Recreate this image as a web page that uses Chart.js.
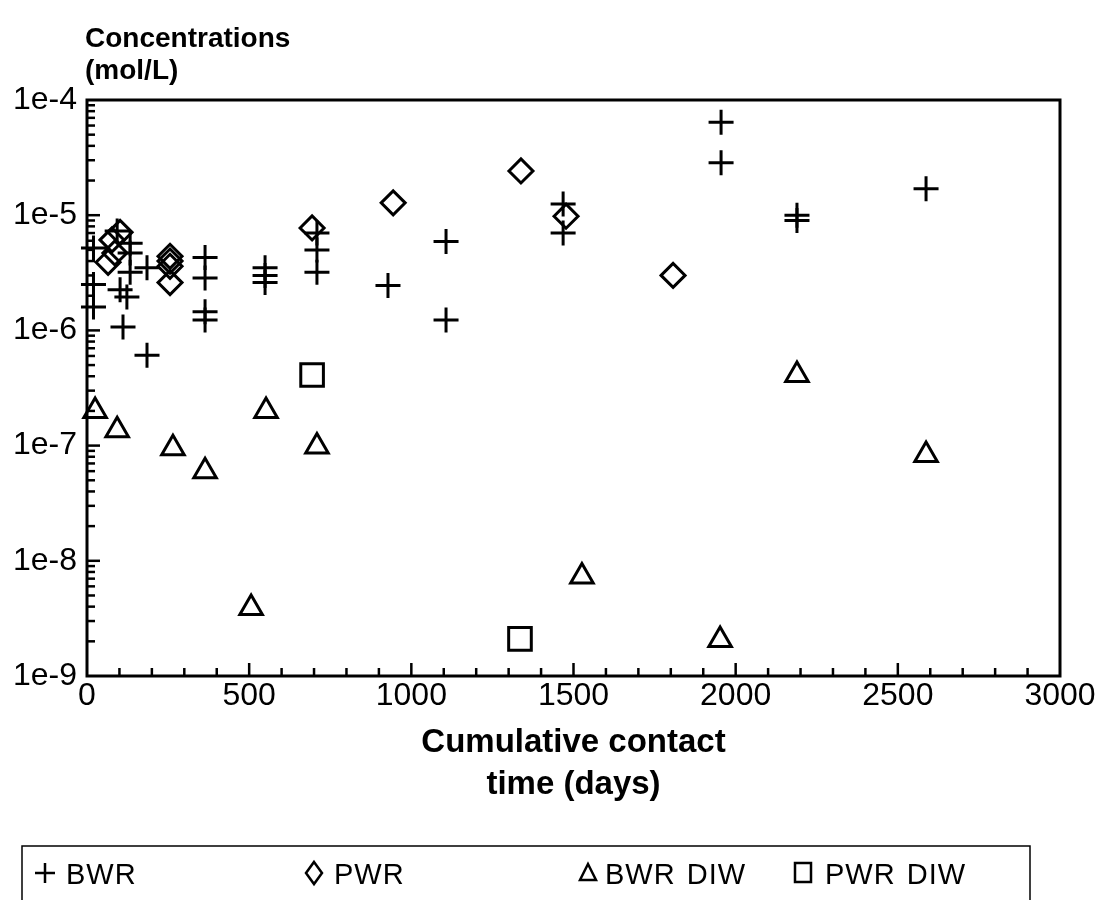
<!DOCTYPE html>
<html>
<head>
<meta charset="utf-8">
<script src="https://cdn.jsdelivr.net/npm/chart.js@4/dist/chart.umd.min.js"></script>
<style>
  html, body { margin: 0; padding: 0; background: #fff; }
  #wrap { width: 1105px; height: 900px; }
</style>
</head>
<body>
<div id="wrap"><canvas id="chart" width="1105" height="900"></canvas></div>
<script>
// values
const bwrDays = [20, 20, 20, 93, 133, 133, 133, 102, 123, 111, 185, 185, 364, 364, 364, 364, 549, 549, 549, 709, 709, 709, 928, 1107, 1107, 1468, 1468, 1955, 1955, 2189, 2189, 2587];
const bwrConc = [5.2e-6, 2.5e-6, 1.6e-6, 7.3e-6, 5.7e-6, 4.7e-6, 3.2e-6, 2.25e-6, 1.95e-6, 1.07e-6, 6.1e-7, 3.5e-6, 4.3e-6, 2.85e-6, 1.45e-6, 1.23e-6, 3.5e-6, 3.0e-6, 2.6e-6, 7.0e-6, 5.0e-6, 3.2e-6, 2.45e-6, 5.9e-6, 1.23e-6, 1.25e-5, 7.0e-6, 6.4e-5, 2.85e-5, 1.0e-5, 9.0e-6, 1.7e-5];

const pwrDays = [65, 77, 86, 102, 256, 256, 256, 256, 694, 944, 1338, 1477, 1807];
const pwrConc = [3.9e-6, 6.1e-6, 4.7e-6, 7.1e-6, 4.4e-6, 4.0e-6, 3.6e-6, 2.6e-6, 7.75e-6, 1.28e-5, 2.42e-5, 9.8e-6, 3.0e-6];

const bwrDiwDays = [25, 93, 265, 364, 506, 552, 709, 1526, 1952, 2189, 2587];
const bwrDiwConc = [2.0e-7, 1.36e-7, 9.5e-8, 6.0e-8, 3.9e-9, 2.0e-7, 9.8e-8, 7.3e-9, 2.05e-9, 4.1e-7, 8.3e-8];

const pwrDiwDays = [694, 1335];
const pwrDiwConc = [4.1e-7, 2.1e-9];

const seriesNames = ['BWR', 'PWR', 'BWR DIW', 'PWR DIW'];
const xTickValues = [0, 500, 1000, 1500, 2000, 2500, 3000];
const yTickValues = [1e-9, 1e-8, 1e-7, 1e-6, 1e-5, 1e-4];
const yTickLabels = ['1e-9', '1e-8', '1e-7', '1e-6', '1e-5', '1e-4'];

const FONT = "'Liberation Sans', Arial, Helvetica, sans-serif";
Chart.defaults.font.family = FONT;
Chart.defaults.color = '#000';

const toPts = (xs, ys) => xs.map((d, i) => ({ x: d, y: ys[i] }));

function line(ctx, x1, y1, x2, y2) {
  ctx.beginPath();
  ctx.moveTo(x1, y1);
  ctx.lineTo(x2, y2);
  ctx.stroke();
}

// frame + inward tick marks like the original plot
const framePlugin = {
  id: 'frame',
  beforeDatasetsDraw(chart) {
    const { ctx, chartArea: a, scales: { x, y } } = chart;
    ctx.save();
    ctx.strokeStyle = '#000';
    ctx.lineWidth = 3;
    ctx.strokeRect(a.left, a.top, a.width, a.height);
    ctx.lineWidth = 2.5;
    for (let v = 100; v < 3000; v += 100) {
      const px = x.getPixelForValue(v);
      line(ctx, px, a.bottom, px, a.bottom - (v % 500 === 0 ? 13 : 8));
    }
    for (let e = -9; e < -4; e++) {
      for (let m = 1; m <= 9; m++) {
        if (e === -9 && m === 1) continue;
        const py = y.getPixelForValue(m * Math.pow(10, e));
        line(ctx, a.left, py, a.left + (m === 1 ? 13 : 8), py);
      }
    }
    ctx.restore();
  },
  afterDraw(chart) {
    const { ctx, chartArea: a } = chart;
    ctx.save();
    ctx.fillStyle = '#000';
    ctx.textBaseline = 'alphabetic';
    // y axis title
    ctx.font = 'bold 28px ' + FONT;
    ctx.textAlign = 'left';
    ctx.fillText('Concentrations', 85, 47);
    ctx.fillText('(mol/L)', 85, 79);
    // x axis title
    ctx.font = 'bold 33px ' + FONT;
    ctx.textAlign = 'center';
    const cx = (a.left + a.right) / 2;
    ctx.fillText('Cumulative contact', cx, 752);
    ctx.fillText('time (days)', cx, 794);

    // legend box
    ctx.strokeStyle = '#000';
    ctx.lineWidth = 1.5;
    ctx.strokeRect(22, 846, 1008, 80);
    ctx.font = '29px ' + FONT;
    ctx.textAlign = 'left';
    ctx.letterSpacing = '1px';
    ctx.wordSpacing = '2px';
    ctx.lineWidth = 2.5;
    const ly = 873;
    const items = [
      { sym: 'cross', sx: 45, tx: 66 },
      { sym: 'diamond', sx: 314, tx: 334 },
      { sym: 'triangle', sx: 588, tx: 605 },
      { sym: 'square', sx: 803, tx: 825 }
    ];
    items.forEach((it, i) => {
      ctx.beginPath();
      if (it.sym === 'cross') {
        ctx.moveTo(it.sx - 10, ly); ctx.lineTo(it.sx + 10, ly);
        ctx.moveTo(it.sx, ly - 10); ctx.lineTo(it.sx, ly + 10);
      } else if (it.sym === 'diamond') {
        ctx.moveTo(it.sx, ly - 11); ctx.lineTo(it.sx + 8, ly);
        ctx.lineTo(it.sx, ly + 11); ctx.lineTo(it.sx - 8, ly); ctx.closePath();
      } else if (it.sym === 'triangle') {
        ctx.moveTo(it.sx, ly - 9); ctx.lineTo(it.sx + 8, ly + 7);
        ctx.lineTo(it.sx - 8, ly + 7); ctx.closePath();
      } else {
        ctx.rect(it.sx - 8, ly - 10, 16, 19);
      }
      ctx.stroke();
      ctx.fillText(seriesNames[i], it.tx, ly + 11);
    });
    ctx.restore();
  }
};

const common = {
  backgroundColor: 'rgba(0,0,0,0)',
  borderColor: '#000',
  borderWidth: 3,
  pointBorderWidth: 3,
  hoverRadius: 0,
  clip: false
};

new Chart(document.getElementById('chart'), {
  type: 'scatter',
  data: {
    datasets: [
      { ...common, label: seriesNames[0], data: toPts(bwrDays, bwrConc), pointStyle: 'cross', pointRadius: 12.5 },
      { ...common, label: seriesNames[1], data: toPts(pwrDays, pwrConc), pointStyle: 'rectRot', pointRadius: 12 },
      { ...common, label: seriesNames[2], data: toPts(bwrDiwDays, bwrDiwConc), pointStyle: 'triangle', pointRadius: 13 },
      { ...common, label: seriesNames[3], data: toPts(pwrDiwDays, pwrDiwConc), pointStyle: 'rect', pointRadius: 16 }
    ]
  },
  options: {
    responsive: false,
    animation: false,
    events: [],
    layout: { padding: { top: 100, right: 45, left: 0, bottom: 0 } },
    plugins: { legend: { display: false }, tooltip: { enabled: false } },
    scales: {
      x: {
        type: 'linear',
        min: 0,
        max: 3000,
        afterBuildTicks: s => { s.ticks = xTickValues.map(v => ({ value: v })); },
        afterFit: s => { s.height = 224; s.paddingLeft = 0; s.paddingRight = 0; },
        grid: { display: false, drawTicks: false },
        border: { display: false },
        ticks: { font: { size: 32 }, padding: 1, maxRotation: 0, callback: v => String(v) }
      },
      y: {
        type: 'logarithmic',
        min: 1e-9,
        max: 1e-4,
        afterBuildTicks: s => { s.ticks = yTickValues.map(v => ({ value: v })); },
        afterFit: s => { s.width = 87; s.paddingTop = 0; s.paddingBottom = 0; },
        grid: { display: false, drawTicks: false },
        border: { display: false },
        ticks: { font: { size: 32 }, padding: 10, callback: (v, i) => yTickLabels[i] }
      }
    }
  },
  plugins: [framePlugin]
});
</script>
</body>
</html>
